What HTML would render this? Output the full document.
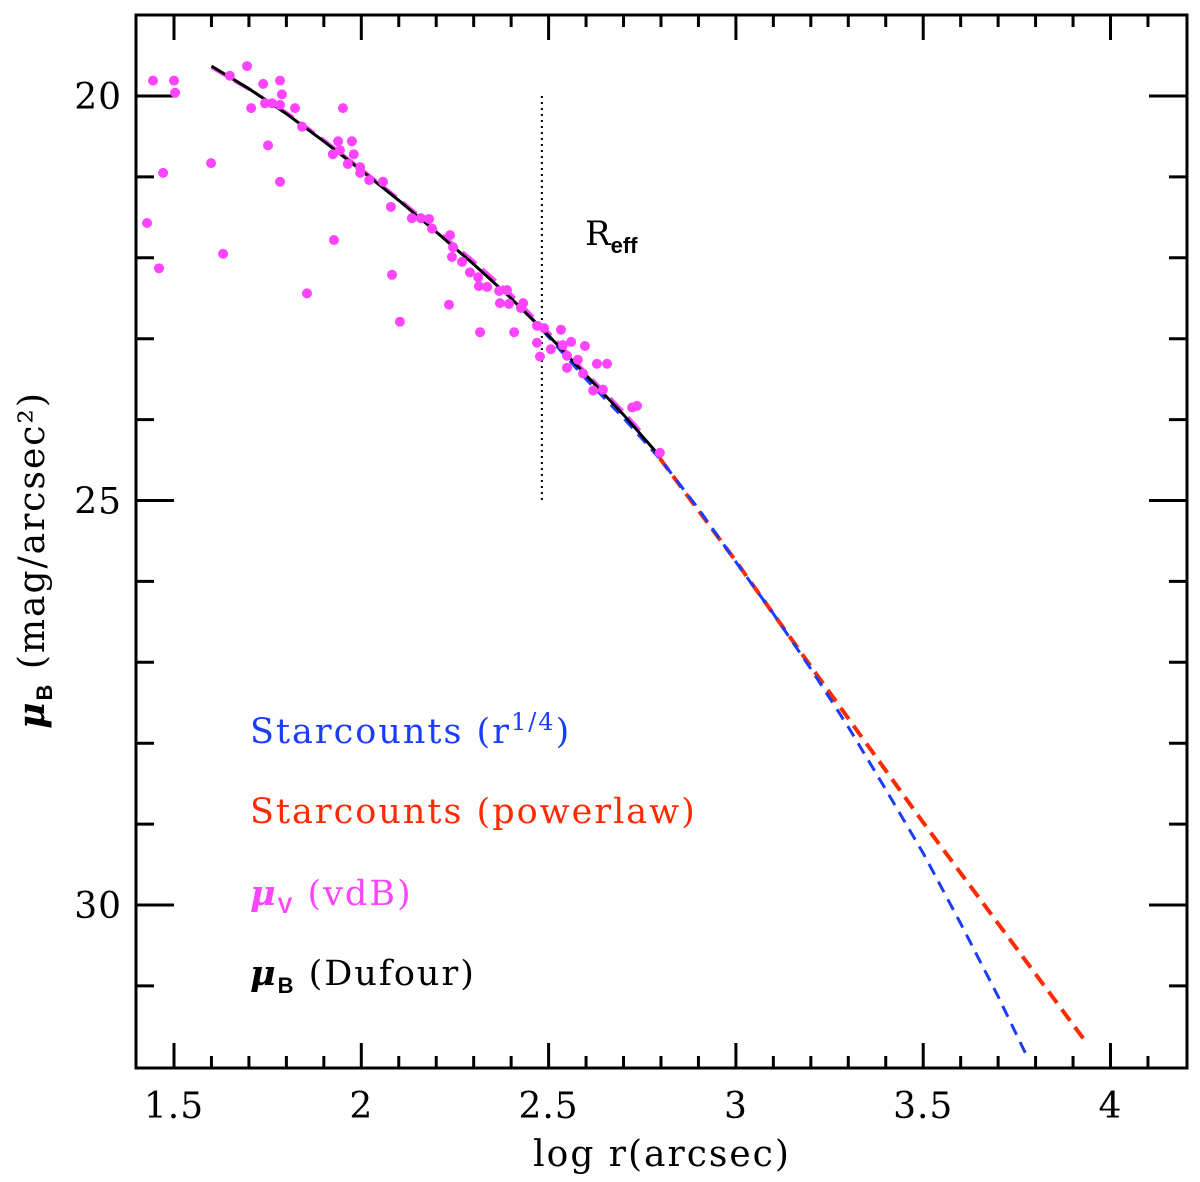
<!DOCTYPE html>
<html><head><meta charset="utf-8"><style>
html,body{margin:0;padding:0;background:#fff}
svg text{font-family:"DejaVu Serif","Liberation Serif",serif}
</style></head><body>
<svg id="chart" width="1200" height="1177" viewBox="0 0 1200 1177" xmlns="http://www.w3.org/2000/svg"></svg>
<script>
const xTicksMajor = [1.5, 2, 2.5, 3, 3.5, 4];
const xTickLabels = ["1.5", "2", "2.5", "3", "3.5", "4"];
const yTicksMajor = [20, 25, 30];
const yTickLabels = ["20", "25", "30"];
const vdbX = [1.444,1.500,1.503,1.471,1.428,1.460,1.599,1.631,1.695,1.649,1.738,1.783,1.788,1.706,1.743,1.762,1.783,1.823,1.951,1.751,1.783,1.855,1.842,1.938,1.975,1.943,1.924,1.980,1.964,1.997,1.997,2.021,2.058,2.079,2.135,2.159,2.181,2.189,1.927,2.237,2.245,2.242,2.269,2.290,2.312,2.314,2.336,2.082,2.234,2.103,2.317,2.368,2.389,2.370,2.394,2.432,2.426,2.408,2.469,2.488,2.533,2.469,2.506,2.538,2.560,2.597,2.477,2.549,2.578,2.629,2.656,2.549,2.592,2.619,2.645,2.723,2.736,2.797];
const vdbY = [19.81,19.81,19.96,20.95,21.57,22.13,20.83,21.95,19.63,19.75,19.85,19.81,19.98,20.15,20.09,20.09,20.11,20.15,20.15,20.61,21.06,22.44,20.38,20.56,20.56,20.67,20.72,20.72,20.84,20.88,20.95,21.04,21.06,21.37,21.51,21.51,21.52,21.64,21.78,21.72,21.87,21.99,22.05,22.18,22.24,22.35,22.36,22.21,22.58,22.79,22.92,22.41,22.40,22.56,22.57,22.56,22.62,22.92,22.84,22.87,22.89,23.05,23.13,23.08,23.04,23.09,23.22,23.21,23.26,23.31,23.31,23.36,23.43,23.64,23.63,23.85,23.83,24.41];
const dufourX = [1.6,1.7,1.8,1.9,2.0,2.1,2.2,2.3,2.4,2.5,2.6,2.7,2.8];
const dufourY = [19.63,19.91,20.22,20.56,20.92,21.29,21.68,22.08,22.50,22.96,23.45,23.94,24.47];
const vdbLineX = [1.6,1.7,1.8,1.9,2.0,2.1,2.2,2.3,2.4,2.5,2.6,2.7,2.757];
const vdbLineY = [19.65,19.92,20.2,20.54,20.9,21.27,21.65,22.04,22.45,22.92,23.42,23.9,24.2];
const blueX = [2.45,2.6,2.7,2.8,2.9,3.0,3.1,3.2,3.3,3.4,3.5,3.6,3.7,3.78];
const blueY = [22.72,23.5,23.98,24.5,25.1,25.76,26.4,27.08,27.8,28.57,29.36,30.23,31.13,31.9];
const redX = [2.797,3.0,3.2,3.5,3.937];
const redY = [24.48,25.75,27.05,28.98,31.71];
const reffX = 2.482;

const svg = document.getElementById('chart');
const NS = 'http://www.w3.org/2000/svg';
const L=136, R=1187, T=15, B=1068;
const X = v => 174 + (v-1.5)*374.6;
const Y = v => 96 + (v-20)*80.9;
function mk(tag, attrs, parent){const e=document.createElementNS(NS,tag);for(const k in attrs)e.setAttribute(k,attrs[k]);(parent||svg).appendChild(e);return e;}

const frame = mk('rect',{x:L,y:T,width:R-L,height:B-T,fill:'none',stroke:'#000','stroke-width':3});



const tg = mk('g',{stroke:'#000','stroke-width':3});


for(let i=14;i<=42;i++){const v=i/10;const px=X(v);if(px<L+2||px>R-2)continue;const len=(i%5===0)?25:12;
  mk('line',{x1:px,y1:B,x2:px,y2:B-len},tg);mk('line',{x1:px,y1:T,x2:px,y2:T+len},tg);}
for(let v=19;v<=32;v++){const py=Y(v);if(py<T+2||py>B-2)continue;const len=(v%5===0)?38:18;
  mk('line',{x1:L,y1:py,x2:L+len,y2:py},tg);mk('line',{x1:R,y1:py,x2:R-len,y2:py},tg);}

xTicksMajor.forEach((v,i)=>{const t=mk('text',{x:X(v),y:1118,'font-size':36,'text-anchor':'middle','letter-spacing':1});t.textContent=xTickLabels[i];
  
  });
yTicksMajor.forEach((v,i)=>{const t=mk('text',{x:122,y:Y(v)+13,'font-size':36,'text-anchor':'end','letter-spacing':1});t.textContent=yTickLabels[i];
  
  });

const xt = mk('text',{x:662,y:1166,'font-size':36,'text-anchor':'middle','letter-spacing':2});
xt.textContent='log r(arcsec)';


const yt = mk('text',{x:0,y:0,'font-size':36,'text-anchor':'middle','letter-spacing':2,transform:'translate(44,560) rotate(-90)'});
yt.innerHTML='<tspan font-style="italic" font-weight="bold">μ</tspan><tspan font-size="22" dy="8" font-family="Liberation Sans" font-weight="bold">B</tspan><tspan dy="-8"> (mag/arcsec²)</tspan>';



function path(xs,ys){return xs.map((x,i)=>(i?'L':'M')+X(x).toFixed(1)+','+Y(ys[i]).toFixed(1)).join(' ');}
const rl = mk('line',{x1:X(reffX),y1:Y(20),x2:X(reffX),y2:Y(25),stroke:'#000','stroke-width':2,'stroke-dasharray':'2,4'});


const rt = mk('text',{x:585,y:245,'font-size':34,'font-family':'Liberation Serif'});
rt.innerHTML='R<tspan font-size="22" dy="8" font-weight="bold" font-family="Liberation Sans">eff</tspan>';



const red = mk('path',{d:path(redX,redY),fill:'none',stroke:'#ff2a00','stroke-width':4,'stroke-dasharray':'14,8'});


const blue = mk('path',{d:path(blueX,blueY),fill:'none',stroke:'#1a3cff','stroke-width':3,'stroke-dasharray':'12,8'});


const mg = mk('path',{d:path(vdbLineX,vdbLineY),fill:'none',stroke:'#ff44ff','stroke-width':3,'stroke-dasharray':'18,8'});


const blk = mk('path',{d:path(dufourX,dufourY),fill:'none',stroke:'#000','stroke-width':3});



const pg = mk('g',{fill:'#ff44ff'});


vdbX.forEach((x,i)=>{const c=mk('circle',{cx:X(x),cy:Y(vdbY[i]),r:5},pg);
  
  });

const legend=[['Starcounts (r<tspan font-size="24" dy="-13">1/4</tspan><tspan dy="13">)</tspan>','#1a3cff',743,'legend-starcounts-r14'],
 ['Starcounts (powerlaw)','#ff2a00',823,'legend-starcounts-powerlaw'],
 ['<tspan font-style="italic" font-weight="bold">μ</tspan><tspan font-size="22" dy="8" font-family="Liberation Sans" font-weight="bold">V</tspan><tspan dy="-8"> (vdB)</tspan>','#ff44ff',905,'legend-vdb'],
 ['<tspan font-style="italic" font-weight="bold">μ</tspan><tspan font-size="22" dy="8" font-family="Liberation Sans" font-weight="bold">B</tspan><tspan dy="-8"> (Dufour)</tspan>','#000',985,'legend-dufour']];
legend.forEach(l=>{const t=mk('text',{x:250,y:l[2],'font-size':35,'letter-spacing':2,fill:l[1]});t.innerHTML=l[0];
  
  });
</script>
</body></html>
